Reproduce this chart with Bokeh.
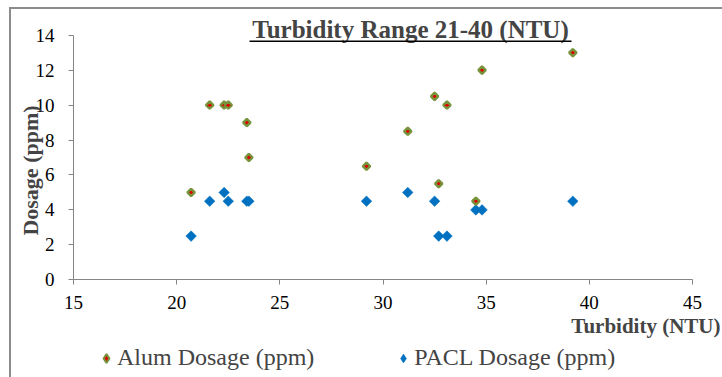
from bokeh.plotting import figure
from bokeh.models import Label, Legend, LegendItem, BoxAnnotation, FixedTicker, Range1d
from bokeh.embed import file_html
from bokeh.resources import INLINE
import numpy as np

turbidity = [20.7, 21.6, 22.3, 22.5, 23.4, 23.5, 29.2, 31.2, 32.5, 32.7, 33.1, 34.5, 34.8, 39.2]
alum_dosage = [5, 10, 10, 10, 9, 7, 6.5, 8.5, 10.5, 5.5, 10, 4.5, 12, 13]
pacl_dosage = [2.5, 4.5, 5, 4.5, 4.5, 4.5, 4.5, 5, 4.5, 2.5, 2.5, 4, 4, 4.5]
x_ticks = [15, 20, 25, 30, 35, 40, 45]
y_ticks = [0, 2, 4, 6, 8, 10, 12, 14]
title_text = "Turbidity Range 21-40 (NTU)"
x_title = "Turbidity (NTU)"
y_title = "Dosage (ppm)"
series_names = ["Alum Dosage (ppm)", "PACL Dosage (ppm)"]

SERIF = "Liberation Serif"
ALUM_FILL, ALUM_LINE, PACL_COLOR = "#E00000", "#77933C", "#0070C0"
W, H = 722, 377
# plot-area geometry in pixels (axis extents inside a full-canvas frame)
X0_PX, X1_PX = 73.0, 692.0
Y0_PX, Y1_PX = 279.3, 34.7
xmin, xmax = x_ticks[0], x_ticks[-1]
ymin, ymax = y_ticks[0], y_ticks[-1]
xs = (xmax - xmin) / (X1_PX - X0_PX)
ys = (ymax - ymin) / (Y0_PX - Y1_PX)
x_range = Range1d(xmin - X0_PX * xs, xmax + (W - X1_PX) * xs)
y_range = Range1d(ymin - (H - Y0_PX) * ys, ymax + Y1_PX * ys)

p = figure(width=W, height=H, output_backend="svg", toolbar_location=None,
           x_range=x_range, y_range=y_range,
           min_border_left=0, min_border_right=0, min_border_top=0, min_border_bottom=0)
p.outline_line_color = None
p.grid.visible = False
p.background_fill_color = "white"
p.border_fill_color = "white"

for ax in (p.xaxis[0], p.yaxis[0]):
    ax.axis_line_color = "#868686"
    ax.major_tick_line_color = "#868686"
    ax.major_tick_out = 5
    ax.major_tick_in = 0
    ax.minor_tick_line_color = None
    ax.major_label_text_font = SERIF
    ax.major_label_text_font_size = "19px"
    ax.major_label_text_color = "black"
p.xaxis[0].ticker = FixedTicker(ticks=x_ticks)
p.yaxis[0].ticker = FixedTicker(ticks=y_ticks)
p.xaxis[0].bounds = (xmin, xmax)
p.yaxis[0].bounds = (ymin, ymax)
p.xaxis[0].fixed_location = ymin
p.yaxis[0].fixed_location = xmin
p.xaxis[0].major_label_standoff = 11
p.yaxis[0].major_label_standoff = 14

p.scatter(turbidity, pacl_dosage, marker="square", angle=np.pi / 4, size=7.5,
          fill_color=PACL_COLOR, line_color=PACL_COLOR, line_width=0.5)
p.scatter(turbidity, alum_dosage, marker="square", angle=np.pi / 4, size=5.2,
          fill_color=ALUM_FILL, line_color=ALUM_LINE, line_width=2.4)

# legend-only glyphs (diamond symbols as in the reference legend); NaN = not drawn in plot
lg_alum = p.scatter([np.nan], [np.nan], marker="diamond", size=10, fill_color=ALUM_FILL,
                    line_color=ALUM_LINE, line_width=2)
lg_pacl = p.scatter([np.nan], [np.nan], marker="diamond", size=10, fill_color=PACL_COLOR,
                    line_color=PACL_COLOR, line_width=0.5)

legend = Legend(items=[LegendItem(label=series_names[0], renderers=[lg_alum]),
                       LegendItem(label=series_names[1], renderers=[lg_pacl])],
                orientation="horizontal", location=(95, 6),
                label_text_font=SERIF, label_text_font_size="24px",
                glyph_width=22, glyph_height=22, label_standoff=0, spacing=78,
                padding=0, margin=0, border_line_color=None, background_fill_alpha=0)
p.add_layout(legend, "center")

p.add_layout(Label(x=410, y=H - 29, x_units="screen", y_units="screen", text=title_text,
                   text_font=SERIF, text_font_style="bold", text_font_size="25px",
                   text_align="center", text_baseline="alphabetic"))
p.add_layout(BoxAnnotation(left=249, right=571, bottom=H - 41.5, top=H - 40, left_units="screen",
                           right_units="screen", bottom_units="screen", top_units="screen",
                           fill_color="black", fill_alpha=1, line_color=None))
p.add_layout(Label(x=720, y=H - 325, x_units="screen", y_units="screen", text=x_title,
                   text_font=SERIF, text_font_style="bold", text_font_size="21px",
                   text_align="right", text_baseline="alphabetic"))
p.add_layout(Label(x=30, y=H - 170, x_units="screen", y_units="screen", text=y_title,
                   angle=np.pi / 2, text_font=SERIF, text_font_style="bold",
                   text_font_size="22px", text_align="center", text_baseline="middle"))
# outer chart border (top and left edges visible)
p.add_layout(BoxAnnotation(left=9, right=W, bottom=H - 8.5, top=H - 6.5, left_units="screen",
                           right_units="screen", bottom_units="screen", top_units="screen",
                           fill_color="#8c8c8c", fill_alpha=1, line_color=None))
p.add_layout(BoxAnnotation(left=8.5, right=10.5, bottom=0, top=H - 6.5, left_units="screen",
                           right_units="screen", bottom_units="screen", top_units="screen",
                           fill_color="#8c8c8c", fill_alpha=1, line_color=None))

open("out.html", "w").write(file_html(p, INLINE))
